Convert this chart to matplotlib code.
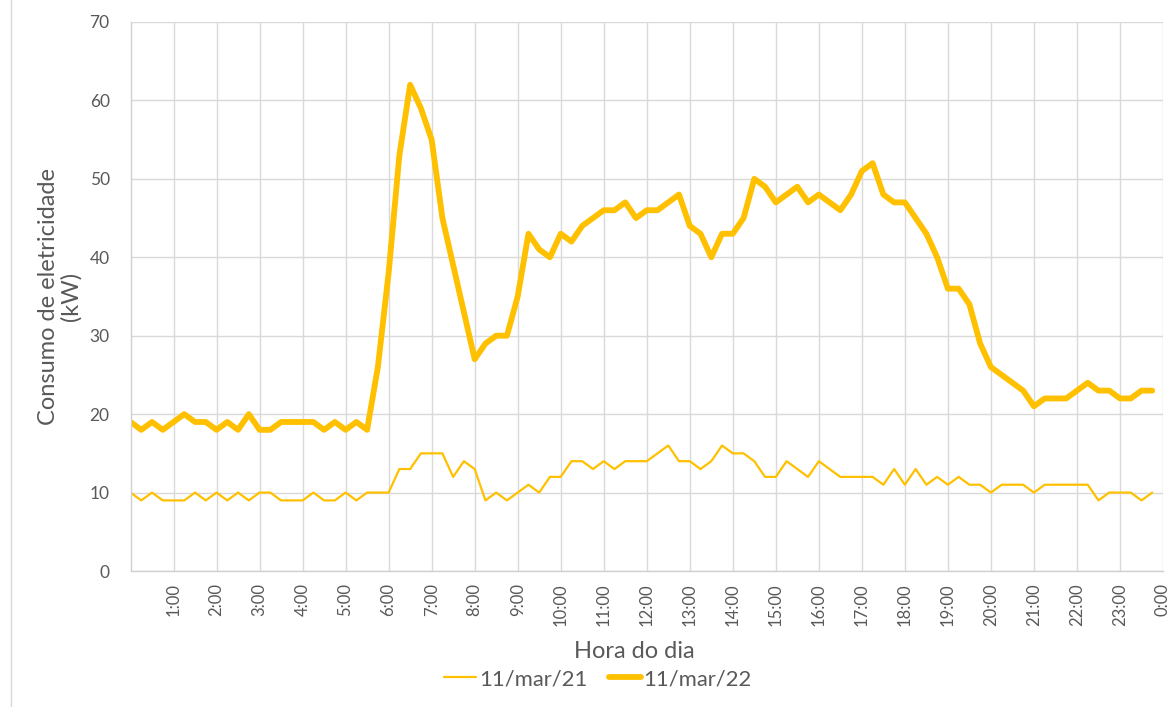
import matplotlib
matplotlib.use("Agg")
import matplotlib.pyplot as plt
from matplotlib.lines import Line2D
import numpy as np

plt.rcParams['font.family'] = ['Lato', 'DejaVu Sans']

# 15-minute intervals from 0:00 to 23:45
series_2021 = [
    10, 9, 10, 9, 9, 9, 10, 9, 10, 9, 10, 9,
    10, 10, 9, 9, 9, 10, 9, 9, 10, 9, 10, 10,
    10, 13, 13, 15, 15, 15, 12, 14, 13, 9, 10, 9,
    10, 11, 10, 12, 12, 14, 14, 13, 14, 13, 14, 14,
    14, 15, 16, 14, 14, 13, 14, 16, 15, 15, 14, 12,
    12, 14, 13, 12, 14, 13, 12, 12, 12, 12, 11, 13,
    11, 13, 11, 12, 11, 12, 11, 11, 10, 11, 11, 11,
    10, 11, 11, 11, 11, 11, 9, 10, 10, 10, 9, 10,
]
series_2022 = [
    19, 18, 19, 18, 19, 20, 19, 19, 18, 19, 18, 20,
    18, 18, 19, 19, 19, 19, 18, 19, 18, 19, 18, 26,
    38, 53, 62, 59, 55, 45, 39, 33, 27, 29, 30, 30,
    35, 43, 41, 40, 43, 42, 44, 45, 46, 46, 47, 45,
    46, 46, 47, 48, 44, 43, 40, 43, 43, 45, 50, 49,
    47, 48, 49, 47, 48, 47, 46, 48, 51, 52, 48, 47,
    47, 45, 43, 40, 36, 36, 34, 29, 26, 25, 24, 23,
    21, 22, 22, 22, 23, 24, 23, 23, 22, 22, 23, 23,
]
labels_series = ["11/mar/21", "11/mar/22"]
hour_ticks = list(range(1, 25))
hour_labels = [f"{h}:00" for h in range(1, 24)] + ["0:00"]
y_ticks = [0, 10, 20, 30, 40, 50, 60, 70]

W, H = 1176, 707
fig = plt.figure(figsize=(W / 100, H / 100), dpi=100)
L, R, T, B = 130.5, 1163, 22, 571
ax = fig.add_axes([L / W, (H - B) / H, (R - L) / W, (B - T) / H])

x = np.arange(len(series_2021)) * 0.25
color = "#FFC000"
ax.plot(x, series_2021, color=color, lw=1.6, label=labels_series[0],
        solid_joinstyle="round", solid_capstyle="round")
ax.plot(x, series_2022, color=color, lw=4.2, label=labels_series[1],
        solid_joinstyle="round", solid_capstyle="round")

ax.set_xlim(0, 24)
ax.set_ylim(0, 70)
ax.set_xticks(hour_ticks)
ax.set_xticklabels(hour_labels, rotation=90)
ax.set_yticks(y_ticks)
ax.grid(True, color="#D9D9D9", lw=1)
ax.set_axisbelow(True)
for s in ["top", "right"]:
    ax.spines[s].set_visible(False)
for s in ["left", "bottom"]:
    ax.spines[s].set_color("#D0D0D0")
    ax.spines[s].set_linewidth(1)
ax.tick_params(axis="both", length=0, colors="#595959", labelsize=12.5)
ax.tick_params(axis="y", pad=15)
ax.tick_params(axis="x", pad=9, labelsize=12)

ax.set_ylabel("Consumo de eletricidade\n(kW)", fontsize=17, color="#595959",
              linespacing=1.1)
ax.yaxis.set_label_coords(-0.047, 0.5)
fig.text(634 / W, 1 - 652 / H, "Hora do dia", ha="center",
         va="center", fontsize=17, color="#595959")

fig.legend(loc="center", bbox_to_anchor=(598 / W, 1 - 679 / H), ncol=2,
           frameon=False, fontsize=15.8, handlelength=1.45, handletextpad=0.12,
           columnspacing=1.0, labelcolor="#595959", borderaxespad=0)

fig.add_artist(Line2D([10.5 / W, 10.5 / W], [0, 1], color="#D9D9D9", lw=1,
                      transform=fig.transFigure))

fig.savefig("out.png", dpi=100, facecolor="white")
